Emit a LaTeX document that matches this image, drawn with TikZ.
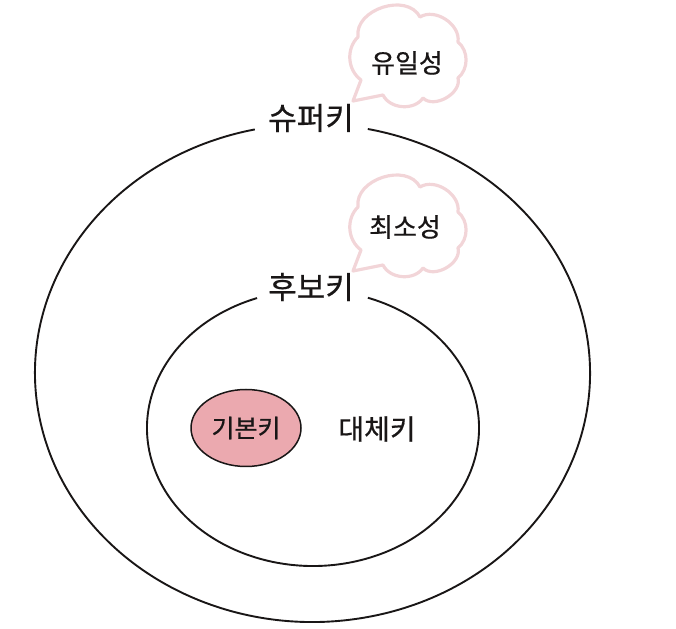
\documentclass[tikz,border=0pt]{standalone}
\usepackage{fontspec}
\newfontfamily\kr[FakeBold=0.6]{Noto Sans CJK KR}
\usetikzlibrary{shapes.geometric,calc}
\definecolor{cloudpink}{RGB}{242,213,216}
\definecolor{keypink}{RGB}{235,169,175}
\definecolor{ink}{RGB}{25,22,22}
\tikzset{
  ring/.style={draw=ink, line width=1.9pt},
  cloudline/.style={draw=cloudpink, line width=3.2pt, line join=round},
  lbl/.style={font=\kr\fontsize{31}{34}\selectfont, text=ink, inner sep=0pt},
  cloudtxt/.style={font=\kr\fontsize{26}{29}\selectfont, text=ink, inner sep=0pt},
  keytxt/.style={font=\kr\fontsize{25}{28}\selectfont, text=ink},
  speechcloud/.pic={
    \draw[cloudline] (0,0) -- (8,21) to[bend left=50] (5,64)
      to[bend left=80, looseness=1.1] (67,84)
      to[bend left=65] (105,59)
      to[bend left=50] (105,23)
      to[bend left=75] (70,3)
      to[bend left=60] (30,6) -- cycle;
  }
}
\begin{document}
\begin{tikzpicture}[x=1pt,y=1pt]
\useasboundingbox (0,0) rectangle (676,628);
% centres
\coordinate (oc) at (312.5,255);
\coordinate (ic) at (313,200);
% outer ring (super key)
\draw[ring] ($(oc)+(102:277.5pt and 249pt)$) arc[start angle=102, end angle=438.5, x radius=277.5pt, y radius=249pt];
% inner ring (candidate key)
\draw[ring] ($(ic)+(109.7:166pt and 138pt)$) arc[start angle=109.7, end angle=430.7, x radius=166pt, y radius=138pt];
% clouds
\pic at (353,527) {speechcloud};
\pic at (353,357) {speechcloud};
% labels
\node[lbl] (super) at (311,510) {슈퍼키};
\node[lbl] (cand) at (311,341) {후보키};
\node[cloudtxt] (uniq) at (407,565) {유일성};
\node[cloudtxt] (mini) at (405,401) {최소성};
\node[ellipse, draw=ink, line width=1.5pt, fill=keypink, minimum width=110pt, minimum height=77pt, keytxt] (pk) at (246,200) {기본키};
\node[keytxt, font=\kr\fontsize{28}{30}\selectfont] (alt) at (377,199) {대체키};
\end{tikzpicture}
\end{document}
